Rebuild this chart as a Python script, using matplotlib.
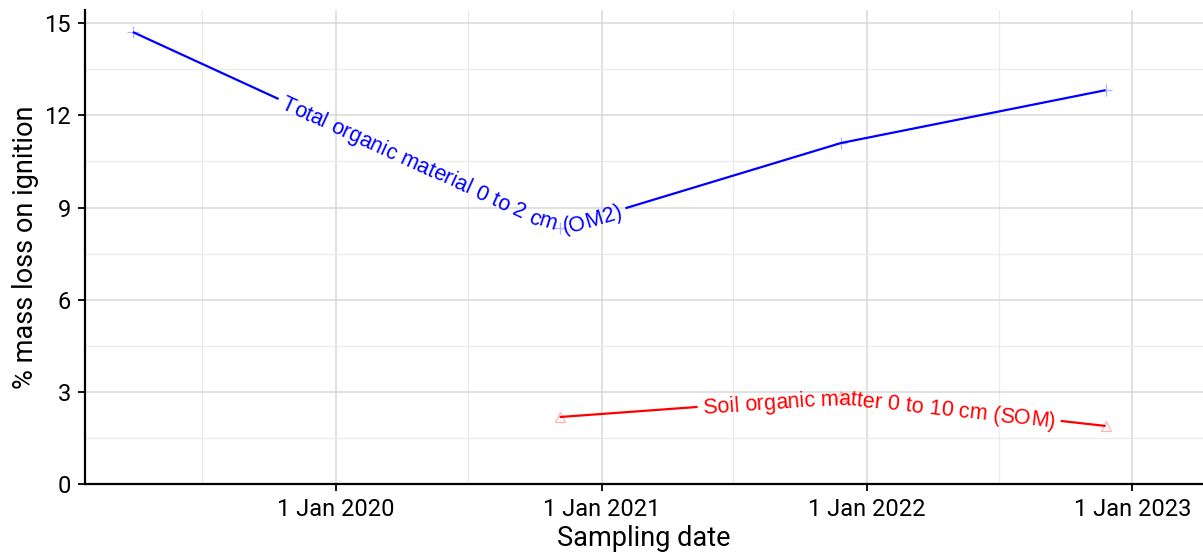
import numpy as np
import matplotlib
matplotlib.use("Agg")
import matplotlib.pyplot as plt
import matplotlib.dates as mdates
from matplotlib.ticker import FuncFormatter, MultipleLocator
from matplotlib.font_manager import FontProperties, findfont, get_font
import datetime as dt

# data
om2_dates = ["2019-03-28", "2020-11-04", "2021-11-26", "2022-11-25"]
om2_vals = [14.71, 8.33, 11.10, 12.82]
som_dates = ["2020-11-04", "2021-11-26", "2022-11-25"]
som_vals = [2.18, 2.85, 1.89]
om2_label = "Total organic material 0 to 2 cm (OM2)"
som_label = "Soil organic matter 0 to 10 cm (SOM)"

def todates(lst):
    return [dt.datetime.strptime(d, "%Y-%m-%d") for d in lst]

fig = plt.figure(figsize=(12.03, 5.52), dpi=100)
ax = fig.add_axes([85/1203, 1-484/552, 1-85/1203, (484-10)/552])

ax.set_xlim(mdates.date2num(dt.datetime(2019, 1, 21)), mdates.date2num(dt.datetime(2023, 4, 8)))
ax.set_ylim(0, 15.43)

ax.xaxis.set_major_locator(mdates.YearLocator())
ax.xaxis.set_minor_locator(mdates.MonthLocator(bymonth=7))
ax.xaxis.set_major_formatter(FuncFormatter(
    lambda v, p: "%d %s" % (mdates.num2date(v).day, mdates.num2date(v).strftime("%b %Y"))))
ax.yaxis.set_major_locator(MultipleLocator(3))
ax.yaxis.set_minor_locator(MultipleLocator(1.5))

ax.grid(which="major", color="#d9d9d9", lw=1.1)
ax.grid(which="minor", color="#ebebeb", lw=0.9)
ax.set_axisbelow(True)
for s in ["top", "right"]:
    ax.spines[s].set_visible(False)
for s in ["left", "bottom"]:
    ax.spines[s].set_linewidth(1.6)
    ax.spines[s].set_color("black")
ax.tick_params(which="major", length=5, width=1.3, color="black", labelsize=17, pad=5)
ax.tick_params(which="minor", length=0)
for t in ax.get_xticklabels() + ax.get_yticklabels():
    t.set_family("Roboto")
ax.set_xlabel("Sampling date", family="Roboto", fontsize=19.5, labelpad=3)
ax.set_ylabel("% mass loss on ignition", family="Roboto", fontsize=19.5, labelpad=4)

label_font = FontProperties(family="Liberation Sans", size=15.5)


def text_on_path(dates, vals, label, color, frac, gap=5, smooth=10):
    x = mdates.date2num(todates(dates))
    pts = ax.transData.transform(np.column_stack([x, vals]))
    seg = np.hypot(*np.diff(pts, axis=0).T)
    cum = np.concatenate([[0], np.cumsum(seg)])

    def at(s):
        s = np.clip(s, 0, cum[-1])
        return np.array([np.interp(s, cum, pts[:, 0]), np.interp(s, cum, pts[:, 1])])

    font = get_font(findfont(label_font))
    font.set_size(label_font.get_size_in_points(), fig.dpi)
    adv = []
    for c in label:
        g = font.load_char(ord(c))
        adv.append(g.linearHoriAdvance / 65536)
    adv = np.array(adv)
    L = adv.sum()
    s0 = frac * cum[-1] - L / 2
    offs = s0 + np.concatenate([[0], np.cumsum(adv)[:-1]])
    cap = 0.72 * label_font.get_size_in_points() * fig.dpi / 72
    inv = ax.transData.inverted()
    for c, o, a in zip(label, offs, adv):
        p1 = at(o - smooth)
        p2 = at(o + a + smooth)
        d = p2 - p1
        ang = np.degrees(np.arctan2(d[1], d[0]))
        u = d / np.hypot(*d)
        nrm = np.array([-u[1], u[0]])
        mid = (p1 + p2) / 2 - nrm * cap / 2
        dx, dy = inv.transform(mid)
        ax.text(dx, dy, c, color=color, fontproperties=label_font, rotation=ang,
                rotation_mode="anchor", ha="center", va="baseline")

    # line pieces around the label
    for a, b in [(0, s0 - gap), (s0 + L + gap, cum[-1])]:
        if b <= a:
            continue
        inner = [pts[i] for i in range(len(cum)) if a < cum[i] < b]
        piece = np.array([at(a)] + inner + [at(b)])
        piece = inv.transform(piece)
        ax.plot(piece[:, 0], piece[:, 1], color=color, lw=1.6, solid_capstyle="butt")


fig.canvas.draw()
text_on_path(om2_dates, om2_vals, om2_label, "blue", 0.338)
text_on_path(som_dates, som_vals, som_label, "red", 0.585)

ax.plot(todates(om2_dates), om2_vals, ls="none", marker="+", ms=8, mew=0.9,
        color="blue", alpha=0.3)
ax.plot(todates(som_dates), som_vals, ls="none", marker="^", ms=6.5, mew=0.9,
        mfc="none", mec="red", alpha=0.3)

fig.savefig("out.png", dpi=100)
